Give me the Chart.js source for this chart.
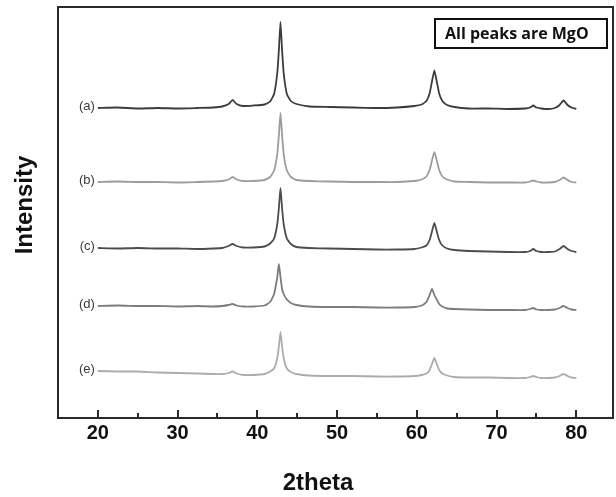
<!DOCTYPE html>
<html>
<head>
<meta charset="utf-8">
<script src="https://cdn.jsdelivr.net/npm/chart.js@4.4.1/dist/chart.umd.min.js"></script>
<style>
  html, body { margin: 0; padding: 0; background: #fff; }
  #wrap { width: 616px; height: 497px; }
</style>
</head>
<body>
<div id="wrap"><canvas id="c" width="616" height="497"></canvas></div>
<script>
// 2theta positions (degrees)
const twoTheta = [20, 22.5, 25, 27.5, 30, 32.5, 34.5, 35.6, 36.4, 36.9, 37.4, 38.2, 39.5, 40.9, 41.6,
  42.1, 42.5, 42.7, 42.9, 43.1, 43.3, 43.7, 44.2, 44.9, 46.5, 49, 52, 55, 57.5, 59.7,
  60.6, 61.2, 61.6, 61.9, 62.2, 62.5, 62.8, 63.2, 63.8, 64.7, 66.5, 69, 71.5, 73.6, 74.2,
  74.6, 75.0, 75.6, 76.5, 77.3, 77.9, 78.4, 78.9, 79.4, 80];

// Intensity (a.u., stacked with offsets)
const seriesA = [310, 310.5, 309.5, 310, 309.5, 310, 310.5, 311.5, 314, 318, 314, 312, 312.5, 313.5, 316.5,
  324, 345, 368, 396, 368, 345, 324, 317, 314, 311.5, 311, 310.5, 310, 310.5, 312,
  313.5, 317, 324.5, 336.5, 347.5, 336.5, 324.5, 317, 313, 311, 309.5, 309.5, 309, 309.5, 310.5,
  312.5, 310.5, 309.5, 309, 310, 313, 317.5, 313, 310.5, 309];
const seriesB = [236, 236.5, 236, 236, 235.5, 236, 236.5, 237, 238.5, 241, 238.5, 237, 237, 238, 241,
  247.5, 264, 283, 305, 283, 264, 247.5, 241, 238, 237, 236.5, 236, 236, 236, 237,
  238.5, 241.5, 248, 257.5, 266, 257.5, 248, 241.5, 238.5, 236.5, 236, 235.5, 235.5, 235.5, 236.5,
  237.5, 236.5, 235.5, 235.5, 236, 238, 240.5, 238, 236, 235.5];
const seriesC = [170, 169.5, 170, 169.5, 169.5, 169, 169.5, 170, 172, 174, 172, 170.5, 170.5, 171.5, 174.5,
  179.5, 194, 210, 230, 210, 194, 179.5, 174, 171, 170, 169.5, 169, 168.5, 168.5, 169,
  170.5, 172.5, 178, 186.5, 195, 186.5, 178, 172.5, 169.5, 168, 167, 166.5, 166, 166, 167,
  169, 167, 166, 166, 166.5, 169, 172, 169, 167, 166];
const seriesD = [112, 112.5, 112, 112, 111.5, 112, 111.5, 112, 113, 114, 112.5, 111.5, 111.5, 112.5, 116,
  124, 141, 154, 141, 129, 124, 118.5, 115, 113, 111.5, 111, 111, 110.5, 110.5, 111,
  112.5, 116, 123, 129, 123, 118.5, 114, 111.5, 109.5, 109, 108.5, 108, 108, 108, 109,
  110, 108.5, 108, 108, 108.5, 110, 112, 110, 108.5, 108];
const seriesE = [47, 46.5, 46.5, 45.5, 45, 44.5, 44, 44, 45, 46.5, 44.5, 43, 43, 44, 46.5,
  49.5, 60, 71.5, 86, 71.5, 60, 49.5, 46, 44, 42.5, 42, 42, 41.5, 41.5, 42,
  43, 44.5, 48, 54, 60, 54, 48, 44.5, 42.5, 41, 40.5, 40.5, 40, 40, 41,
  42, 41, 40, 40, 40.5, 42, 44, 42, 40.5, 40];

const seriesNames = ['(a)', '(b)', '(c)', '(d)', '(e)'];
const seriesColors = ['#3c3c3c', '#9c9c9c', '#4c4c4c', '#7c7c7c', '#acacac'];
const xTicks = [20, 30, 40, 50, 60, 70, 80];
const xMinorTicks = [25, 35, 45, 55, 65, 75];
const noteText = 'All peaks are MgO';
const xTitle = '2theta';
const yTitle = 'Intensity';

const allSeries = [seriesA, seriesB, seriesC, seriesD, seriesE];
const datasets = allSeries.map((s, k) => ({
  label: seriesNames[k],
  data: twoTheta.map((x, i) => ({ x: x, y: s[i] })),
  borderColor: seriesColors[k],
  borderWidth: 1.8,
  pointRadius: 0,
  tension: 0.15,
  fill: false
}));

const decor = {
  id: 'decor',
  afterDraw(chart) {
    const ctx = chart.ctx;
    const a = chart.chartArea;
    const xs = chart.scales.x, ys = chart.scales.y;
    ctx.save();
    // frame
    ctx.strokeStyle = '#2a2a2a';
    ctx.lineWidth = 2;
    ctx.strokeRect(a.left, a.top, a.right - a.left, a.bottom - a.top);
    // inward ticks
    ctx.lineWidth = 2;
    xTicks.forEach(v => {
      const px = Math.round(xs.getPixelForValue(v));
      ctx.beginPath(); ctx.moveTo(px, a.bottom); ctx.lineTo(px, a.bottom - 8); ctx.stroke();
    });
    xMinorTicks.forEach(v => {
      const px = Math.round(xs.getPixelForValue(v));
      ctx.beginPath(); ctx.moveTo(px, a.bottom); ctx.lineTo(px, a.bottom - 5); ctx.stroke();
    });
    // series labels
    ctx.fillStyle = '#3a3a3a';
    ctx.font = '13px "Liberation Sans", Arial, sans-serif';
    ctx.textAlign = 'right';
    ctx.textBaseline = 'middle';
    allSeries.forEach((s, k) => {
      const px = xs.getPixelForValue(twoTheta[0]) - 3;
      const py = ys.getPixelForValue(s[0]) - 2;
      ctx.fillText(seriesNames[k], px, py);
    });
    // note box
    const bx = a.right - 178, by = a.top + 12, bw = 172, bh = 29;
    ctx.strokeStyle = '#111';
    ctx.lineWidth = 2;
    ctx.strokeRect(bx, by, bw, bh);
    ctx.fillStyle = '#111';
    ctx.font = 'bold 16px "Open Sans", "Noto Sans", sans-serif';
    ctx.textAlign = 'left';
    ctx.textBaseline = 'alphabetic';
    ctx.fillText(noteText, bx + 10, by + 20);
    // axis titles
    ctx.font = 'bold 24px "Liberation Sans", Arial, sans-serif';
    ctx.textAlign = 'center';
    ctx.textBaseline = 'middle';
    ctx.fillText(xTitle, 318, 483);
    ctx.translate(25, 205);
    ctx.rotate(-Math.PI / 2);
    ctx.fillText(yTitle, 0, 0);
    ctx.restore();
  }
};

new Chart(document.getElementById('c'), {
  type: 'line',
  data: { datasets: datasets },
  options: {
    responsive: false,
    animation: false,
    devicePixelRatio: 1,
    layout: { padding: { left: 58, right: 3, top: 7, bottom: 0 } },
    plugins: { legend: { display: false }, tooltip: { enabled: false } },
    scales: {
      x: {
        type: 'linear',
        min: 15,
        max: 84.6,
        afterBuildTicks: (scale) => { scale.ticks = xTicks.map(v => ({ value: v })); },
        afterFit: (scale) => { scale.height = 79; },
        grid: { display: false, drawTicks: false },
        border: { display: false },
        ticks: {
          autoSkip: false,
          maxRotation: 0,
          padding: 3,
          color: '#111',
          font: { family: '"Liberation Sans", Arial, sans-serif', size: 20, weight: 'bold' }
        }
      },
      y: {
        type: 'linear',
        display: false,
        min: 0,
        max: 411
      }
    }
  },
  plugins: [decor]
});
</script>
</body>
</html>
